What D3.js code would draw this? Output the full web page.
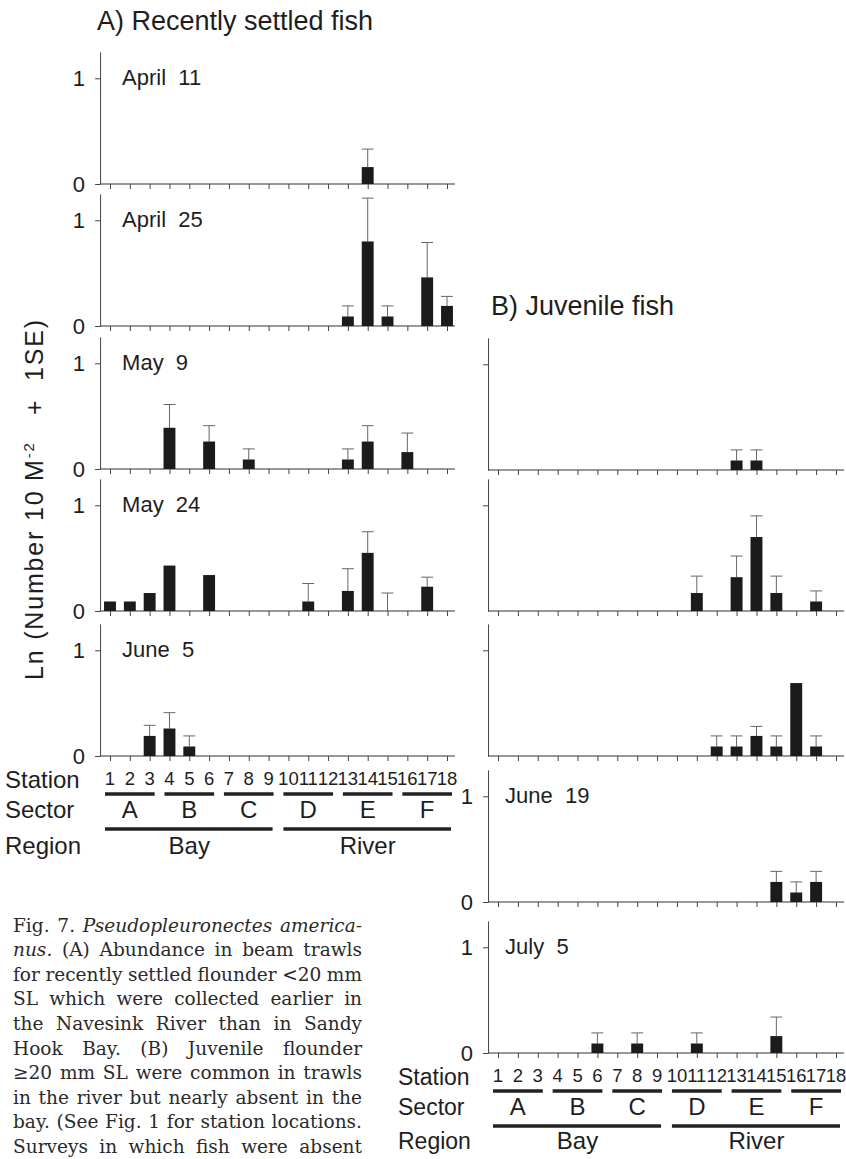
<!DOCTYPE html>
<html>
<head>
<meta charset="utf-8">
<script src="https://cdn.jsdelivr.net/npm/d3@7"></script>
<style>
  body { margin: 0; background: #fff; }
  svg { display: block; }
</style>
</head>
<body>
<svg id="chart" width="846" height="1159"></svg>
<script>
// ---- station / sector / region layout along the transect ----
const stations = d3.range(1, 19);
const sectorNames = ["A", "B", "C", "D", "E", "F"];
const sectorFirst = [1, 4, 7, 10, 13, 16];
const sectorLast = [3, 6, 9, 12, 15, 18];
const regionNames = ["Bay", "River"];
const regionFirst = [1, 10];
const regionLast = [9, 18];
const yTickValues = [0, 1];

// ---- A) recently settled fish: mean and mean + 1 SE by station 1..18 ----
const settledDates = ["April  11", "April  25", "May  9", "May  24", "June  5"];
const n = null;
const settledApr11 = [0, 0, 0, 0, 0, 0, 0, 0, 0, 0, 0, 0, 0, 0.16, 0, 0, 0, 0];
const settledApr11SE = [n, n, n, n, n, n, n, n, n, n, n, n, n, 0.33, n, n, n, n];
const settledApr25 = [0, 0, 0, 0, 0, 0, 0, 0, 0, 0, 0, 0, 0.09, 0.80, 0.09, 0, 0.46, 0.19];
const settledApr25SE = [n, n, n, n, n, n, n, n, n, n, n, n, 0.19, 1.21, 0.19, n, 0.79, 0.28];
const settledMay9 = [0, 0, 0, 0.39, 0, 0.26, 0, 0.09, 0, 0, 0, 0, 0.09, 0.26, 0, 0.16, 0, 0];
const settledMay9SE = [n, n, n, 0.61, n, 0.41, n, 0.19, n, n, n, n, 0.19, 0.41, n, 0.34, n, n];
const settledMay24 = [0.09, 0.09, 0.17, 0.43, 0, 0.34, 0, 0, 0, 0, 0.09, 0, 0.19, 0.55, 0, 0, 0.23, 0];
const settledMay24SE = [n, n, n, n, n, n, n, n, n, n, 0.26, n, 0.40, 0.75, 0.17, n, 0.32, n];
const settledJun5 = [0, 0, 0.19, 0.26, 0.09, 0, 0, 0, 0, 0, 0, 0, 0, 0, 0, 0, 0, 0];
const settledJun5SE = [n, n, 0.29, 0.41, 0.19, n, n, n, n, n, n, n, n, n, n, n, n, n];

// ---- B) juvenile fish ----
const juvenileDates = ["May  9", "May  24", "June  5", "June  19", "July  5"];
const juvMay9 = [0, 0, 0, 0, 0, 0, 0, 0, 0, 0, 0, 0, 0.09, 0.09, 0, 0, 0, 0];
const juvMay9SE = [n, n, n, n, n, n, n, n, n, n, n, n, 0.19, 0.19, n, n, n, n];
const juvMay24 = [0, 0, 0, 0, 0, 0, 0, 0, 0, 0, 0.17, 0, 0.32, 0.70, 0.17, 0, 0.09, 0];
const juvMay24SE = [n, n, n, n, n, n, n, n, n, n, 0.33, n, 0.52, 0.90, 0.33, n, 0.19, n];
const juvJun5 = [0, 0, 0, 0, 0, 0, 0, 0, 0, 0, 0, 0.09, 0.09, 0.19, 0.09, 0.69, 0.09, 0];
const juvJun5SE = [n, n, n, n, n, n, n, n, n, n, n, 0.19, 0.19, 0.28, 0.19, n, 0.19, n];
const juvJun19 = [0, 0, 0, 0, 0, 0, 0, 0, 0, 0, 0, 0, 0, 0, 0.19, 0.09, 0.19, 0];
const juvJun19SE = [n, n, n, n, n, n, n, n, n, n, n, n, n, n, 0.29, 0.19, 0.29, n];
const juvJul5 = [0, 0, 0, 0, 0, 0.09, 0, 0.09, 0, 0, 0.09, 0, 0, 0, 0.16, 0, 0, 0];
const juvJul5SE = [n, n, n, n, n, 0.19, n, 0.19, n, n, 0.19, n, n, n, 0.34, n, n, n];

const captionLines = [
  "Fig. 7. Pseudopleuronectes america-",
  "nus. (A) Abundance in beam trawls",
  "for recently settled flounder <20 mm",
  "SL which were collected earlier in",
  "the Navesink River than in Sandy",
  "Hook Bay. (B) Juvenile flounder",
  "\u226520 mm SL were common in trawls",
  "in the river but nearly absent in the",
  "bay. (See Fig. 1 for station locations.",
  "Surveys in which fish were absent"
];
const captionItalic = [[2, 3], [0], [], [], [], [], [], [], [], []];

// ---- drawing ----
const svg = d3.select("#chart");
const SANS = "'Liberation Sans', Arial, Helvetica, sans-serif";
const INK = "#1e1e1e";
const UNIT = 105.7;       // pixels per ln unit
const TOP = 1.25;         // y axis reaches this value

const columns = [
  {
    title: "A) Recently settled fish", titleX: 97, titleY: 30,
    xRange: [110, 447], zeros: [184, 326, 469, 611, 756],
    dates: settledDates, showLabels: [true, true, true, true, true], dateDx: 22,
    means: [settledApr11, settledApr25, settledMay9, settledMay24, settledJun5],
    upper: [settledApr11SE, settledApr25SE, settledMay9SE, settledMay24SE, settledJun5SE],
    keyX: 5, keySize: 24, regionDy: 98
  },
  {
    title: "B) Juvenile fish", titleX: 491, titleY: 315,
    xRange: [498, 836], zeros: [470, 611, 756, 902, 1053],
    dates: juvenileDates, showLabels: [false, false, false, true, true], dateDx: 17,
    means: [juvMay9, juvMay24, juvJun5, juvJun19, juvJul5],
    upper: [juvMay9SE, juvMay24SE, juvJun5SE, juvJun19SE, juvJul5SE],
    keyX: 398, keySize: 23, regionDy: 96
  }
];

columns.forEach(col => {
  const x = d3.scaleLinear().domain([1, 18]).range(col.xRange);
  const step = x(2) - x(1);
  const barW = step * 0.6;
  const axisX = x(0.5);
  const axisEnd = x(18.4);

  svg.append("text")
    .attr("x", col.titleX).attr("y", col.titleY)
    .attr("font-family", SANS).attr("font-size", 27).attr("fill", INK)
    .text(col.title);

  col.zeros.forEach((y0, p) => {
    const y = d3.scaleLinear().domain([0, TOP]).range([y0, y0 - UNIT * TOP]);
    const g = svg.append("g");

    // y axis
    const yAxis = d3.axisLeft(y).tickValues(yTickValues).tickSize(5).tickSizeOuter(0)
      .tickPadding(10)
      .tickFormat(col.showLabels[p] ? d3.format("d") : "");
    const ya = g.append("g").attr("transform", `translate(${axisX},0)`).call(yAxis);
    ya.select(".domain").attr("stroke", "#444");
    ya.selectAll(".tick line").attr("stroke", "#444");
    ya.selectAll(".tick text").attr("font-family", SANS).attr("font-size", 22).attr("fill", INK);
    if (!col.showLabels[p]) ya.selectAll(".tick").filter(d => d === 0).remove();

    // x axis baseline and station ticks
    g.append("line")
      .attr("x1", axisX).attr("x2", axisEnd).attr("y1", y0).attr("y2", y0)
      .attr("stroke", "#333").attr("stroke-width", 1.2);
    const xAxis = d3.axisBottom(x).tickValues(stations).tickSize(5).tickFormat("");
    const xa = g.append("g").attr("transform", `translate(0,${y0})`).call(xAxis);
    xa.select(".domain").remove();
    xa.selectAll(".tick line").attr("stroke", "#444");

    // survey date
    if (col.showLabels[p]) {
      g.append("text")
        .attr("x", axisX + col.dateDx).attr("y", y(1) + 7)
        .attr("font-family", SANS).attr("font-size", 22).attr("fill", INK)
        .style("white-space", "pre")
        .text(col.dates[p]);
    }

    const rows = stations.map((s, i) => ({ s, m: col.means[p][i], u: col.upper[p][i] }));

    // error bars (mean to mean + 1 SE)
    const eb = rows.filter(d => d.u !== null);
    g.selectAll(null).data(eb).join("line")
      .attr("x1", d => x(d.s)).attr("x2", d => x(d.s))
      .attr("y1", d => y(d.m)).attr("y2", d => y(d.u))
      .attr("stroke", "#666").attr("stroke-width", 1);
    g.selectAll(null).data(eb).join("line")
      .attr("x1", d => x(d.s) - barW / 2).attr("x2", d => x(d.s) + barW / 2)
      .attr("y1", d => y(d.u)).attr("y2", d => y(d.u))
      .attr("stroke", "#666").attr("stroke-width", 1);

    // bars
    g.selectAll(null).data(rows.filter(d => d.m > 0)).join("rect")
      .attr("x", d => x(d.s) - barW / 2)
      .attr("y", d => y(d.m))
      .attr("width", barW)
      .attr("height", d => y(0) - y(d.m))
      .attr("fill", "#1b1b1b");
  });

  // station / sector / region key below the last panel
  const yb = col.zeros[col.zeros.length - 1];
  const key = svg.append("g").attr("font-family", SANS).attr("fill", INK);
  key.append("text").attr("x", col.keyX).attr("y", yb + 32).attr("font-size", col.keySize).text("Station");
  key.append("text").attr("x", col.keyX).attr("y", yb + 62).attr("font-size", col.keySize).text("Sector");
  key.append("text").attr("x", col.keyX).attr("y", yb + col.regionDy).attr("font-size", col.keySize).text("Region");

  key.selectAll(null).data(stations).join("text")
    .attr("x", d => x(d)).attr("y", yb + 29)
    .attr("text-anchor", "middle").attr("font-size", 18.5)
    .text(d => d);

  sectorNames.forEach((name, i) => {
    key.append("line")
      .attr("x1", x(sectorFirst[i]) - 5).attr("x2", x(sectorLast[i]) + 5)
      .attr("y1", yb + 38).attr("y2", yb + 38)
      .attr("stroke", "#222").attr("stroke-width", 3.5);
    key.append("text")
      .attr("x", (x(sectorFirst[i]) + x(sectorLast[i])) / 2).attr("y", yb + 62)
      .attr("text-anchor", "middle").attr("font-size", 24)
      .text(name);
  });

  regionNames.forEach((name, i) => {
    key.append("line")
      .attr("x1", x(regionFirst[i]) - 5).attr("x2", x(regionLast[i]) + 4)
      .attr("y1", yb + 73).attr("y2", yb + 73)
      .attr("stroke", "#222").attr("stroke-width", 3.5);
    key.append("text")
      .attr("x", (x(regionFirst[i]) + x(regionLast[i])) / 2).attr("y", yb + col.regionDy)
      .attr("text-anchor", "middle").attr("font-size", 24)
      .text(name);
  });
});

// shared y axis title
const yTitle = svg.append("text")
  .attr("transform", "translate(43,500) rotate(-90)")
  .attr("text-anchor", "middle")
  .attr("font-family", SANS).attr("font-size", 25).attr("fill", INK)
  .attr("textLength", 360).attr("lengthAdjust", "spacing")
  .style("white-space", "pre");
yTitle.append("tspan").text("Ln (Number 10 M");
yTitle.append("tspan").attr("dy", -9).attr("font-size", 15).text("-2");
yTitle.append("tspan").attr("dy", 9).text("   +  1SE)");

// justified caption
const capX0 = 13, capX1 = 362, capY0 = 931.5, capLead = 24.6;
const SERIF = "'DejaVu Serif', 'Liberation Serif', serif";
let capSize = 19;
const cap = svg.append("g").attr("font-family", SERIF).attr("fill", "#2a2a2a");

function layoutLine(words, italics, y, size) {
  const t = cap.append("text").attr("y", y).attr("font-size", size);
  const spans = words.map((w, i) => t.append("tspan")
    .attr("font-style", italics.includes(i) ? "italic" : "normal").text(w));
  const widths = spans.map(s => s.node().getComputedTextLength());
  return { t, spans, widths };
}

// shrink the caption type if any line cannot fit with ordinary word spacing
captionLines.forEach((line, li) => {
  const words = line.split(" ");
  const probe = layoutLine(words, captionItalic[li], -100, capSize);
  const natural = d3.sum(probe.widths) + (words.length - 1) * capSize * 0.3;
  if (natural > capX1 - capX0) capSize = Math.min(capSize, capSize * (capX1 - capX0) / natural);
  probe.t.remove();
});

captionLines.forEach((line, li) => {
  const words = line.split(" ");
  const { spans, widths } = layoutLine(words, captionItalic[li], capY0 + li * capLead, capSize);
  const gap = (capX1 - capX0 - d3.sum(widths)) / (words.length - 1);
  let cx = capX0;
  spans.forEach((s, i) => { s.attr("x", cx); cx += widths[i] + gap; });
});
</script>
</body>
</html>
